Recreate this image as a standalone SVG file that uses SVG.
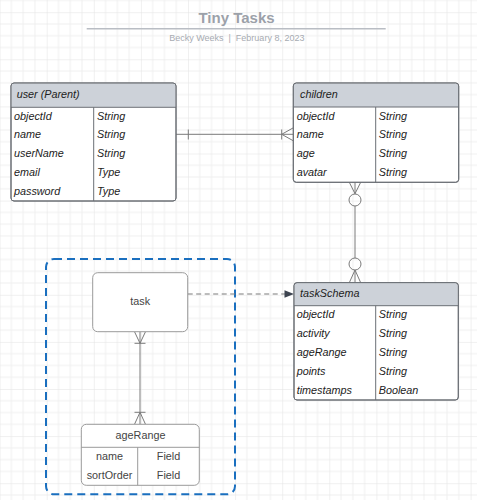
<svg xmlns="http://www.w3.org/2000/svg" width="477" height="500" viewBox="0 0 477 500">
  <style>
    .t { font-family: "Liberation Sans", Arial, sans-serif; }
    .cell { font-family: "Liberation Sans", Arial, sans-serif; font-size: 10.8px; font-style: italic; fill: #222; }
    .plain { font-family: "Liberation Sans", Arial, sans-serif; font-size: 10.8px; fill: #444; text-anchor: middle; }
    .box { fill: #ffffff; stroke: #6b6f75; stroke-width: 1; }
    .hdr { fill: #cdd2d9; }
    .sep { stroke: #6b6f75; stroke-width: 1; fill: none; }
    .conn { stroke: #7a7a7a; stroke-width: 1; fill: none; }
    .soft { fill: #ffffff; stroke: #9a9a9a; stroke-width: 1; }
  </style>
  <defs>
    <pattern id="grid" width="47.1" height="47.1" patternUnits="userSpaceOnUse" patternTransform="translate(-0.4,12.2)">
      <path d="M11.78 0V47.1M23.55 0V47.1M35.33 0V47.1M0 11.78H47.1M0 23.55H47.1M0 35.33H47.1" stroke="#efefef" stroke-width="1" fill="none"/>
      <path d="M0 0V47.1M0 0H47.1" stroke="#e2e2e2" stroke-width="1" fill="none"/>
    </pattern>
  </defs>
  <rect x="0" y="0" width="477" height="500" fill="#ffffff"/>
  <rect x="0" y="0" width="477" height="500" fill="url(#grid)"/>

  <g id="title">
    <text class="t" x="236.5" y="23.3" font-size="15" font-weight="bold" fill="#9ca1a9" text-anchor="middle">Tiny Tasks</text>
    <line x1="86.7" y1="28.7" x2="385.7" y2="28.7" stroke="#b9bdc4" stroke-width="1.6"/>
    <text class="t" x="236.8" y="40.7" font-size="9" fill="#a7abb2" text-anchor="middle" xml:space="preserve">Becky Weeks  |  February 8, 2023</text>
  </g>

  <g id="container">
    <rect x="46" y="259" width="189" height="235.3" rx="8" fill="none" stroke="#1a6fbf" stroke-width="2" stroke-dasharray="8 5"/>
  </g>

  <g id="connectors">
    <!-- user -> children -->
    <line class="conn" x1="176" y1="134.3" x2="293.3" y2="134.3"/>
    <line class="conn" x1="188.3" y1="129.5" x2="188.3" y2="139.5"/>
    <line class="conn" x1="281.7" y1="129.5" x2="281.7" y2="139.5"/>
    <path class="conn" d="M293.3 127.8L281.7 134.3L293.3 140.8"/>
    <!-- children -> taskSchema -->
    <line class="conn" x1="355" y1="182.3" x2="355" y2="194"/>
    <path class="conn" d="M349.3 182.3L355 193.7L360.7 182.3"/>
    <circle class="conn" cx="355" cy="200" r="6"/>
    <line class="conn" x1="355" y1="206" x2="355" y2="258"/>
    <circle class="conn" cx="355" cy="264" r="6"/>
    <line class="conn" x1="355" y1="270" x2="355" y2="282.7"/>
    <path class="conn" d="M349.3 282.7L355 270L360.7 282.7"/>
    <!-- task -> taskSchema (dashed) -->
    <line class="conn" x1="187.7" y1="294" x2="286" y2="294" stroke-dasharray="5 3.5"/>
    <polygon points="284.5,290.3 294,294 284.5,297.7" fill="#3d4450"/>
    <!-- task -> ageRange -->
    <line class="conn" x1="140" y1="331.7" x2="140" y2="424.3"/>
    <path class="conn" d="M134.5 331.7L140 343.3L145.5 331.7"/>
    <line class="conn" x1="134.5" y1="343.3" x2="145.5" y2="343.3"/>
    <line class="conn" x1="134.5" y1="412.3" x2="145.5" y2="412.3"/>
    <path class="conn" d="M134.5 424.3L140 412.3L145.5 424.3"/>
  </g>

  <g id="user">
    <rect class="box" x="11" y="83" width="165" height="118" rx="3"/>
    <path class="hdr" d="M14 83.5H173A2.5 2.5 0 0 1 175.5 86V107H11.5V86A2.5 2.5 0 0 1 14 83.5Z"/>
    <rect x="11" y="83" width="165" height="118" rx="3" fill="none" stroke="#6b6f75"/>
    <line class="sep" x1="11" y1="107.3" x2="176" y2="107.3"/>
    <line class="sep" x1="93.7" y1="107.3" x2="93.7" y2="201"/>
    <text class="cell" x="16.7" y="98">user (Parent)</text>
    <text class="cell" x="14" y="119.7">objectId</text><text class="cell" x="97" y="119.7">String</text>
    <text class="cell" x="14" y="138.4">name</text><text class="cell" x="97" y="138.4">String</text>
    <text class="cell" x="14" y="157.2">userName</text><text class="cell" x="97" y="157.2">String</text>
    <text class="cell" x="14" y="175.9">email</text><text class="cell" x="97" y="175.9">Type</text>
    <text class="cell" x="14" y="194.7">password</text><text class="cell" x="97" y="194.7">Type</text>
  </g>

  <g id="children">
    <rect class="box" x="293.3" y="83" width="165.4" height="99.3" rx="3"/>
    <path class="hdr" d="M296.3 83.5H455.7A2.5 2.5 0 0 1 458.2 86V107H293.8V86A2.5 2.5 0 0 1 296.3 83.5Z"/>
    <rect x="293.3" y="83" width="165.4" height="99.3" rx="3" fill="none" stroke="#6b6f75"/>
    <line class="sep" x1="293.3" y1="107" x2="458.7" y2="107"/>
    <line class="sep" x1="375.7" y1="107" x2="375.7" y2="182.3"/>
    <text class="cell" x="300" y="98">children</text>
    <text class="cell" x="296.7" y="119.7">objectId</text><text class="cell" x="378.7" y="119.7">String</text>
    <text class="cell" x="296.7" y="138.4">name</text><text class="cell" x="378.7" y="138.4">String</text>
    <text class="cell" x="296.7" y="157.2">age</text><text class="cell" x="378.7" y="157.2">String</text>
    <text class="cell" x="296.7" y="175.9">avatar</text><text class="cell" x="378.7" y="175.9">String</text>
  </g>

  <g id="taskSchema">
    <rect class="box" x="294" y="282.7" width="164.3" height="117.3" rx="3"/>
    <path class="hdr" d="M297 283.2H455.3A2.5 2.5 0 0 1 457.8 285.7V305.7H294.5V285.7A2.5 2.5 0 0 1 297 283.2Z"/>
    <rect x="294" y="282.7" width="164.3" height="117.3" rx="3" fill="none" stroke="#6b6f75"/>
    <line class="sep" x1="294" y1="305.7" x2="458.3" y2="305.7"/>
    <line class="sep" x1="375.7" y1="305.7" x2="375.7" y2="400"/>
    <text class="cell" x="300" y="297.3">taskSchema</text>
    <text class="cell" x="296.7" y="318">objectId</text><text class="cell" x="378.7" y="318">String</text>
    <text class="cell" x="296.7" y="336.9">activity</text><text class="cell" x="378.7" y="336.9">String</text>
    <text class="cell" x="296.7" y="355.8">ageRange</text><text class="cell" x="378.7" y="355.8">String</text>
    <text class="cell" x="296.7" y="374.6">points</text><text class="cell" x="378.7" y="374.6">String</text>
    <text class="cell" x="296.7" y="393.5">timestamps</text><text class="cell" x="378.7" y="393.5">Boolean</text>
  </g>

  <g id="task">
    <rect class="soft" x="92.7" y="272.7" width="95" height="59" rx="5"/>
    <text class="plain" x="140.2" y="304.6" fill="#555">task</text>
  </g>

  <g id="ageRange">
    <rect class="soft" x="81.3" y="424.3" width="118" height="61" rx="5"/>
    <line x1="81.3" y1="447.3" x2="199.3" y2="447.3" stroke="#9a9a9a"/>
    <line x1="137.7" y1="447.3" x2="137.7" y2="485.3" stroke="#9a9a9a"/>
    <text class="plain" x="140.5" y="438.9">ageRange</text>
    <text class="plain" x="109.5" y="460.2">name</text>
    <text class="plain" x="168.5" y="460.2">Field</text>
    <text class="plain" x="109.5" y="478.9">sortOrder</text>
    <text class="plain" x="168.5" y="478.9">Field</text>
  </g>
</svg>
